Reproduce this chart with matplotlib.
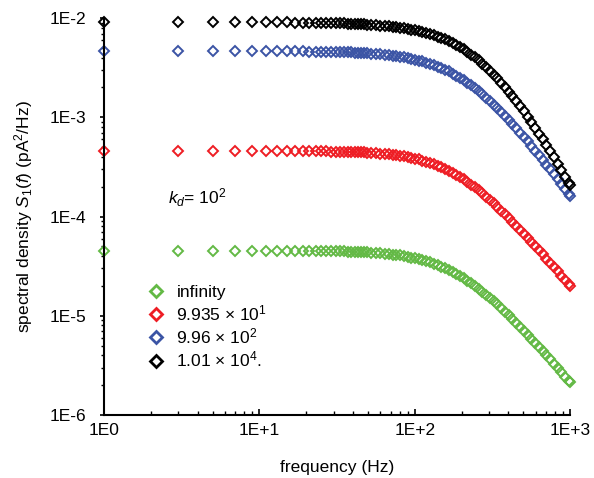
import numpy as np
import matplotlib
matplotlib.use('Agg')
import matplotlib.pyplot as plt
from matplotlib.lines import Line2D
from matplotlib.ticker import FixedLocator, LogLocator, NullFormatter

plt.rcParams['font.family'] = ['Liberation Sans', 'DejaVu Sans']
plt.rcParams['mathtext.fontset'] = 'custom'
plt.rcParams['mathtext.rm'] = 'Liberation Sans'
plt.rcParams['mathtext.it'] = 'Liberation Sans:italic'

# frequency (Hz)
freq = [1, 3, 5, 7, 9, 11, 13, 15, 17, 19, 21, 23, 25, 27, 29,
        31, 33, 35, 37, 39, 41, 43, 45, 47, 49,
        52, 56, 60, 64, 68, 72, 76, 80, 85, 90, 95, 100, 106, 112, 118, 125, 132, 140, 148, 156,
        165, 175, 185, 195, 206, 218, 230, 243, 257, 272, 288, 304, 322, 340, 360, 380, 402, 425,
        450, 475, 502, 531, 562, 594, 628, 664, 702, 742, 785, 830, 878, 928, 981, 1000]

# spectral density
black_e3 = [9.20, 9.15, 9.14, 9.13, 9.11, 9.10, 9.08, 9.06, 9.04, 9.02, 9.00, 8.98, 8.96, 8.94, 8.91,
            8.89, 8.86, 8.84, 8.81, 8.78, 8.75, 8.72, 8.69, 8.66, 8.62,
            8.57, 8.50, 8.43, 8.35, 8.27, 8.19, 8.11, 8.02, 7.91, 7.79, 7.67, 7.55, 7.41, 7.26, 7.10, 6.92, 6.73, 6.52, 6.31, 6.10,
            5.87, 5.61, 5.36, 5.11, 4.84, 4.57, 4.30, 4.03, 3.75, 3.47, 3.21, 2.95, 2.69, 2.47, 2.23, 2.015, 1.813, 1.630,
            1.450, 1.291, 1.146, 1.014, 0.890, 0.782, 0.687, 0.602, 0.524, 0.457, 0.394, 0.342, 0.295, 0.253, 0.219, 0.208]
blue_e3 = [4.65, 4.65, 4.65, 4.645, 4.64, 4.64, 4.63, 4.63, 4.62, 4.62, 4.61, 4.60, 4.59, 4.58, 4.57,
           4.56, 4.55, 4.54, 4.52, 4.51, 4.49, 4.48, 4.46, 4.45, 4.43,
           4.40, 4.36, 4.32, 4.28, 4.24, 4.19, 4.14, 4.09, 4.03, 3.97, 3.90, 3.83, 3.74, 3.66, 3.57, 3.47, 3.36, 3.25, 3.14, 3.02,
           2.90, 2.76, 2.63, 2.50, 2.37, 2.23, 2.10, 1.97, 1.84, 1.70, 1.58, 1.46, 1.34, 1.24, 1.13, 1.03, 0.944, 0.857,
           0.776, 0.702, 0.635, 0.573, 0.515, 0.463, 0.416, 0.373, 0.334, 0.300, 0.267, 0.239, 0.213, 0.189, 0.168, 0.162]
red_e4 = [4.57, 4.57, 4.57, 4.57, 4.57, 4.57, 4.56, 4.56, 4.56, 4.55, 4.55, 4.54, 4.54, 4.53, 4.52,
          4.52, 4.51, 4.50, 4.49, 4.48, 4.46, 4.45, 4.44, 4.43, 4.41,
          4.39, 4.35, 4.32, 4.28, 4.24, 4.20, 4.15, 4.10, 4.04, 3.98, 3.91, 3.84, 3.76, 3.67, 3.58, 3.48, 3.38, 3.26, 3.15, 3.03,
          2.90, 2.76, 2.63, 2.50, 2.37, 2.23, 2.10, 1.97, 1.84, 1.71, 1.59, 1.47, 1.36, 1.25, 1.15, 1.056, 0.969, 0.886,
          0.808, 0.736, 0.671, 0.610, 0.554, 0.504, 0.457, 0.415, 0.376, 0.341, 0.308, 0.280, 0.254, 0.229, 0.207, 0.201]
green_e5 = [4.53, 4.53, 4.53, 4.53, 4.53, 4.52, 4.52, 4.52, 4.51, 4.51, 4.50, 4.50, 4.49, 4.48, 4.48,
            4.47, 4.46, 4.45, 4.44, 4.43, 4.41, 4.40, 4.39, 4.37, 4.36,
            4.33, 4.30, 4.26, 4.22, 4.18, 4.14, 4.10, 4.05, 3.99, 3.93, 3.86, 3.80, 3.72, 3.63, 3.55, 3.45, 3.35, 3.24, 3.13, 3.02,
            2.90, 2.77, 2.64, 2.52, 2.39, 2.26, 2.13, 2.00, 1.87, 1.75, 1.63, 1.51, 1.40, 1.30, 1.19, 1.10, 1.01, 0.928,
            0.846, 0.774, 0.707, 0.645, 0.584, 0.532, 0.484, 0.440, 0.400, 0.362, 0.328, 0.297, 0.269, 0.243, 0.221, 0.213]

labels = ['infinity', r'9.935 $\times$ 10$^1$', r'9.96 $\times$ 10$^2$', r'1.01 $\times$ 10$^4$.']
colors = ['#63b945', '#ee1d24', '#3b54a5', '#000000']

series = [np.array(green_e5) * 1e-5, np.array(red_e4) * 1e-4,
          np.array(blue_e3) * 1e-3, np.array(black_e3) * 1e-3]

x_ticks = [1, 10, 100, 1000]
x_ticklabels = ['1E0', '1E+1', '1E+2', '1E+3']
y_ticks = [1e-6, 1e-5, 1e-4, 1e-3, 1e-2]
y_ticklabels = ['1E-6', '1E-5', '1E-4', '1E-3', '1E-2']

fig = plt.figure(figsize=(5.94, 4.78), dpi=100)
ax = fig.add_axes([0.175, 0.132, 0.785, 0.830])

for s, c in zip(series, colors):
    ax.plot(freq, s, linestyle='none', marker='D', markersize=4.8,
            markerfacecolor='none', markeredgecolor=c, markeredgewidth=1.4,
            clip_on=False)

ax.set_xscale('log')
ax.set_yscale('log')
ax.set_xlim(1, 1000)
ax.set_ylim(1e-6, 1e-2)

ax.xaxis.set_major_locator(FixedLocator(x_ticks))
ax.set_xticklabels(x_ticklabels)
ax.yaxis.set_major_locator(FixedLocator(y_ticks))
ax.set_yticklabels(y_ticklabels)
ax.xaxis.set_minor_locator(LogLocator(base=10, subs=np.arange(2, 10)))
ax.yaxis.set_minor_locator(LogLocator(base=10, subs=np.arange(2, 10)))
ax.xaxis.set_minor_formatter(NullFormatter())
ax.yaxis.set_minor_formatter(NullFormatter())

ax.spines['top'].set_visible(False)
ax.spines['right'].set_visible(False)
ax.spines['left'].set_linewidth(1.5)
ax.spines['bottom'].set_linewidth(1.5)
ax.tick_params(axis='x', which='major', direction='in', length=4, width=1.2, pad=6, labelsize=12.5)
ax.tick_params(axis='x', which='minor', direction='in', length=3, width=1.0)
ax.tick_params(axis='y', which='major', direction='out', length=3, width=1.2, pad=10, labelsize=12.5)
ax.tick_params(axis='y', which='minor', direction='out', length=2, width=1.0)

ax.set_xlabel('frequency (Hz)', fontsize=12.5, labelpad=16)
ax.set_ylabel(r'spectral density $S_1(f)$ (pA$^2$/Hz)', fontsize=12.5, labelpad=10)

ax.text(0.137, 0.547, r'$k_d$= 10$^2$', transform=ax.transAxes, fontsize=12.5,
        ha='left', va='center')

handles = [Line2D([], [], linestyle='none', marker='D', markersize=6.5,
                  markerfacecolor='none', markeredgecolor=c, markeredgewidth=2.0)
           for c in colors]
ax.legend(handles, labels, loc='upper left', bbox_to_anchor=(0.055, 0.368),
          frameon=False, fontsize=12.5, labelspacing=0.2, handletextpad=0.6,
          handlelength=1.2)

fig.savefig('out.png', dpi=100)
